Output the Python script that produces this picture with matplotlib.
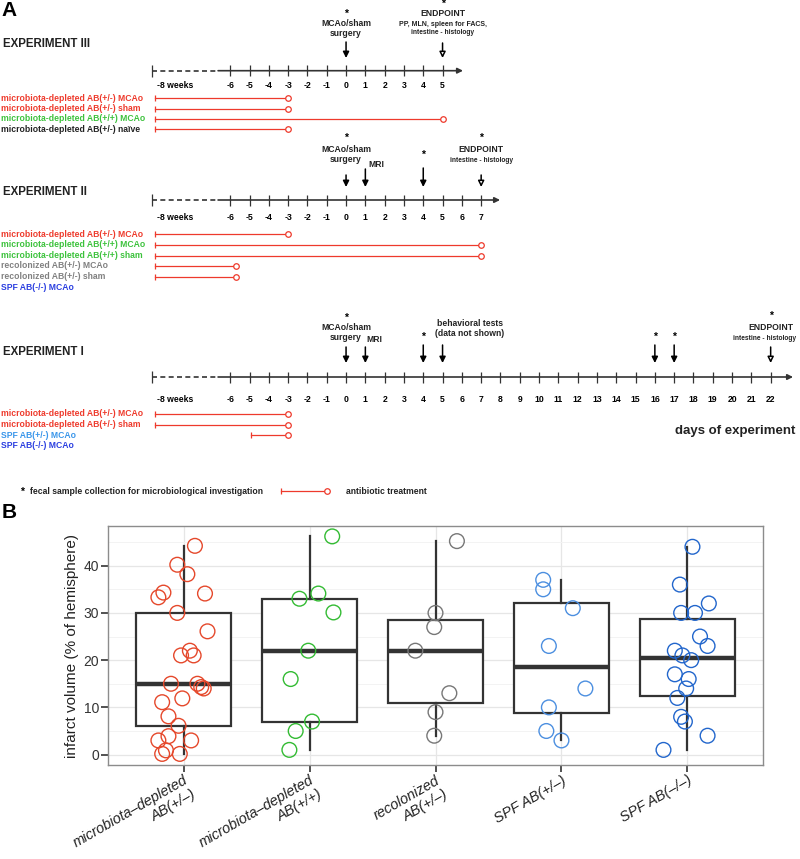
import numpy as np
import matplotlib.pyplot as plt

plt.rcParams['font.family'] = ['Liberation Sans', 'DejaVu Sans']

RED = '#EE3A2C'
GREEN = '#3CC23C'
GREY = '#808080'
BLACK = '#222222'
BLUE_D = '#2B3FE0'
BLUE_L = '#3A96EA'

# ---------------- panel A data ----------------
week8_day = -10.05          # where the "-8 weeks" bar sits on the day scale
dash_end = -6.63
ab_start = -9.9

exp3_days = list(range(-6, 6))
exp3_labels = ['microbiota-depleted AB(+/-) MCAo', 'microbiota-depleted AB(+/-) sham',
               'microbiota-depleted AB(+/+) MCAo', 'microbiota-depleted AB(+/-) naïve']
exp3_colors = [RED, RED, GREEN, BLACK]
exp3_ab_from = [ab_start, ab_start, ab_start, ab_start]
exp3_ab_to = [-3, -3, 5, -3]

exp2_days = list(range(-6, 8))
exp2_labels = ['microbiota-depleted AB(+/-) MCAo', 'microbiota-depleted AB(+/+) MCAo',
               'microbiota-depleted AB(+/+) sham', 'recolonized AB(+/-) MCAo',
               'recolonized AB(+/-) sham', 'SPF AB(-/-) MCAo']
exp2_colors = [RED, GREEN, GREEN, GREY, GREY, BLUE_D]
exp2_ab_from = [ab_start, ab_start, ab_start, ab_start, ab_start, None]
exp2_ab_to = [-3, 7, 7, -5.7, -5.7, None]

exp1_days = list(range(-6, 23))
exp1_labels = ['microbiota-depleted AB(+/-) MCAo', 'microbiota-depleted AB(+/-) sham',
               'SPF AB(+/-) MCAo', 'SPF AB(-/-) MCAo']
exp1_colors = [RED, RED, BLUE_L, BLUE_D]
exp1_ab_from = [ab_start, ab_start, -4.9, None]
exp1_ab_to = [-3, -3, -3, None]

# ---------------- panel B data ----------------
groups_b = ['microbiota\u2013depleted\nAB(+/\u2013)', 'microbiota\u2013depleted\nAB(+/+)',
            'recolonized\nAB(+/\u2013)', 'SPF AB(+/\u2013)', 'SPF AB(\u2013/\u2013)']
colors_b = ['#E5482B', '#33BB33', '#777777', '#4C8FE0', '#2266CC']

vol_dep_pm = [44.2, 40.2, 38.2, 34.3, 33.3, 34.1, 30.0, 26.1, 22.0, 21.0, 21.0, 15.0, 15.0,
              14.3, 14.0, 11.1, 11.9, 8.1, 6.1, 3.0, 3.9, 3.0, 0.9, 0.15, 0.15]
jit_dep_pm = [0.09, -0.05, 0.03, -0.16, -0.2, 0.17, -0.05, 0.19, 0.05, -0.02, 0.08, -0.10, 0.11,
              0.14, 0.16, -0.17, -0.01, -0.12, -0.04, -0.2, -0.12, 0.06, -0.14, -0.17, -0.03]
vol_dep_pp = [46.2, 34.1, 33.0, 30.1, 22.0, 16.0, 7.0, 5.0, 1.0]
jit_dep_pp = [0.18, 0.07, -0.08, 0.19, -0.01, -0.15, 0.02, -0.11, -0.16]
vol_recol = [45.2, 30.0, 27.0, 22.0, 13.0, 9.0, 4.0]
jit_recol = [0.17, 0.0, -0.01, -0.16, 0.11, 0.0, -0.01]
vol_spf_pm = [37.0, 35.0, 31.0, 23.0, 14.0, 10.0, 5.0, 3.0]
jit_spf_pm = [-0.145, -0.145, 0.09, -0.10, 0.19, -0.10, -0.12, 0.0]
vol_spf_mm = [44.0, 36.0, 32.0, 30.0, 30.0, 25.0, 23.0, 22.0, 21.0, 20.0, 17.0, 16.0, 14.0,
              12.0, 8.0, 7.0, 4.0, 1.0]
jit_spf_mm = [0.04, -0.06, 0.17, -0.05, 0.06, 0.10, 0.16, -0.10, -0.04, 0.03, -0.10, 0.01,
              -0.01, -0.08, -0.05, -0.02, 0.16, -0.19]

vols_b = [vol_dep_pm, vol_dep_pp, vol_recol, vol_spf_pm, vol_spf_mm]
jits_b = [jit_dep_pm, jit_dep_pp, jit_recol, jit_spf_pm, jit_spf_mm]

fig = plt.figure(figsize=(8, 8.59), dpi=100)

# panel A: x in days, y in rows (pixels from top)
ax = fig.add_axes([0, 0, 1, 1])
ax.set_xlim(-17.93, 23.52)
ax.set_ylim(859, 0)
ax.axis('off')

FS = 6.2
FS_SMALL = 4.8
LEFT = -17.9


def timeline(yax, days, tip, label, ylab, ytick):
    ax.plot([week8_day, dash_end], [yax, yax], color='#333333', lw=1.2, ls=(0, (3, 2)))
    ax.annotate('', xy=(tip, yax), xytext=(dash_end, yax),
                arrowprops=dict(arrowstyle='-|>', color='#333333', lw=1.2,
                                mutation_scale=8, shrinkA=0, shrinkB=0))
    ax.vlines([week8_day], yax - 6, yax + 6, color='#333333', lw=0.9)
    ax.vlines(days, yax - 5.5, yax + 5.5, color='#333333', lw=0.9)
    for d in days:
        ax.text(d, ytick, str(d), ha='center', va='center', fontsize=FS, fontweight='bold')
    ax.text(week8_day + 0.25, ytick, '-8 weeks', ha='left', va='center', fontsize=FS,
            fontweight='bold')
    ax.text(LEFT + 0.1, ylab, label, ha='left', va='center', fontsize=8.3, fontweight='bold',
            color=BLACK)


def rows(ys, labels, colors, froms, tos):
    for y, lab, c, a, b in zip(ys, labels, colors, froms, tos):
        ax.text(LEFT, y, lab, ha='left', va='center', fontsize=FS, fontweight='bold', color=c)
        if a is None:
            continue
        ax.plot([a, b], [y, y], color=RED, lw=0.9)
        ax.plot([a], [y], marker='|', color=RED, ms=5, mew=0.9)
        ax.plot([b], [y], marker='o', mfc='white', mec=RED, ms=4, mew=0.9)


def arrow(d, y0, y1, open_head=False):
    ax.annotate('', xy=(d, y1), xytext=(d, y0),
                arrowprops=dict(arrowstyle='-|>', fc='white' if open_head else 'black',
                                ec='black', lw=1.1, mutation_scale=9, shrinkA=0, shrinkB=0))


def star(d, y):
    ax.text(d, y, '*', ha='center', va='center', fontsize=7.5, fontweight='bold')


def label(d, y, s, fs=FS):
    ax.text(d, y, s, ha='center', va='center', fontsize=fs, fontweight='bold', color=BLACK)


ax.text(-17.85, 10, 'A', ha='left', va='center', fontsize=15, fontweight='bold')
ax.text(-17.85, 512, 'B', ha='left', va='center', fontsize=15, fontweight='bold')

# Experiment III
timeline(70.7, exp3_days, 6.06, 'EXPERIMENT III', 44, 85)
rows([98.3, 108.7, 118.9, 129.2], exp3_labels, exp3_colors, exp3_ab_from, exp3_ab_to)
star(0, 14); label(0, 24, 'MCAo/sham'); label(0, 33, 'surgery')
arrow(0, 42, 58)
star(5, 3.5); label(5, 13, 'ENDPOINT')
label(5, 25, 'PP, MLN, spleen for FACS,', 5.0); label(5, 32.5, 'intestine - histology', FS_SMALL)
arrow(5, 43, 58, True)

# Experiment II
timeline(200, exp2_days, 7.98, 'EXPERIMENT II', 192, 218)
rows([234.3, 244.8, 255.6, 266, 276.6, 287], exp2_labels, exp2_colors, exp2_ab_from, exp2_ab_to)
star(0, 138); label(0, 150, 'MCAo/sham'); label(0, 159.5, 'surgery')
arrow(0, 175, 187)
label(1.55, 164.5, 'MRI'); arrow(1, 169, 187)
star(4, 155); arrow(4, 168, 187)
star(7, 138); label(7, 150, 'ENDPOINT'); label(7, 160, 'intestine - histology', FS_SMALL)
arrow(7, 175, 187, True)

# Experiment I
timeline(377, exp1_days, 23.16, 'EXPERIMENT I', 352, 399)
rows([414, 424.5, 435, 445.5], exp1_labels, exp1_colors, exp1_ab_from, exp1_ab_to)
star(0, 318); label(0, 328, 'MCAo/sham'); label(0, 338, 'surgery')
arrow(0, 347, 363)
label(1.45, 340, 'MRI'); arrow(1, 347, 363)
star(4, 337); arrow(4, 345, 363)
label(6.4, 324, 'behavioral tests'); label(6.4, 333, '(data not shown)'); arrow(5, 345, 363)
star(16, 337); arrow(16, 345, 363)
star(17, 337); arrow(17, 345, 363)
star(22, 316); label(22, 328, 'ENDPOINT'); label(21.7, 339, 'intestine - histology', FS_SMALL)
arrow(22, 347, 363, True)
ax.text(23.3, 431, 'days of experiment', ha='right', va='center', fontsize=9.5,
        fontweight='bold', color=BLACK)

# legend
star(-16.8, 492)
ax.text(-16.37, 491, 'fecal sample collection for microbiological investigation', ha='left',
        va='center', fontsize=FS, fontweight='bold', color=BLACK)
ax.plot([-3.37, -0.98], [491, 491], color=RED, lw=0.9)
ax.plot([-3.37], [491], marker='|', color=RED, ms=5, mew=0.9)
ax.plot([-0.98], [491], marker='o', mfc='white', mec=RED, ms=4, mew=0.9)
ax.text(0.0, 491, 'antibiotic treatment', ha='left', va='center', fontsize=FS,
        fontweight='bold', color=BLACK)

# panel B
axb = fig.add_axes([108 / 800, (859 - 765) / 859, 655 / 800, 239 / 859])
pos = np.arange(1, len(groups_b) + 1)

axb.boxplot(vols_b, positions=pos, widths=0.75, patch_artist=True, showfliers=False,
            showcaps=False, manage_ticks=False,
            boxprops=dict(facecolor='white', edgecolor='#333333', lw=1.6),
            whiskerprops=dict(color='#333333', lw=1.6),
            medianprops=dict(color='#333333', lw=3.2))
for p, v, j, c in zip(pos, vols_b, jits_b, colors_b):
    axb.scatter(p + np.array(j), v, s=10.6 ** 2, facecolors='none', edgecolors=c,
                linewidths=1.0, zorder=3)

axb.set_xlim(0.4, 5.6)
axb.set_ylim(-2.2, 48.4)
axb.set_yticks([0, 10, 20, 30, 40])
axb.set_yticks([5, 15, 25, 35, 45], minor=True)
axb.set_xticks(pos)
axb.grid(True, which='major', color='#E6E6E6', lw=0.9)
axb.grid(True, which='minor', axis='y', color='#F3F3F3', lw=0.7)
axb.set_axisbelow(True)

for s in axb.spines.values():
    s.set_color('#8C8C8C')
    s.set_linewidth(1.0)
axb.tick_params(which='major', length=5, width=1.2, color='#333333')
axb.tick_params(which='minor', length=0)
axb.tick_params(axis='y', labelsize=10, labelcolor='#333333', pad=1.5)
axb.tick_params(axis='x', pad=1)
axb.set_xticklabels(groups_b, rotation=30, ha='right', va='top', rotation_mode='anchor',
                    fontsize=10.4, style='italic', color='#222222')
axb.set_ylabel('infarct volume (% of hemisphere)', fontsize=11, color='#222222', labelpad=3)

fig.savefig('out.png', dpi=100)
